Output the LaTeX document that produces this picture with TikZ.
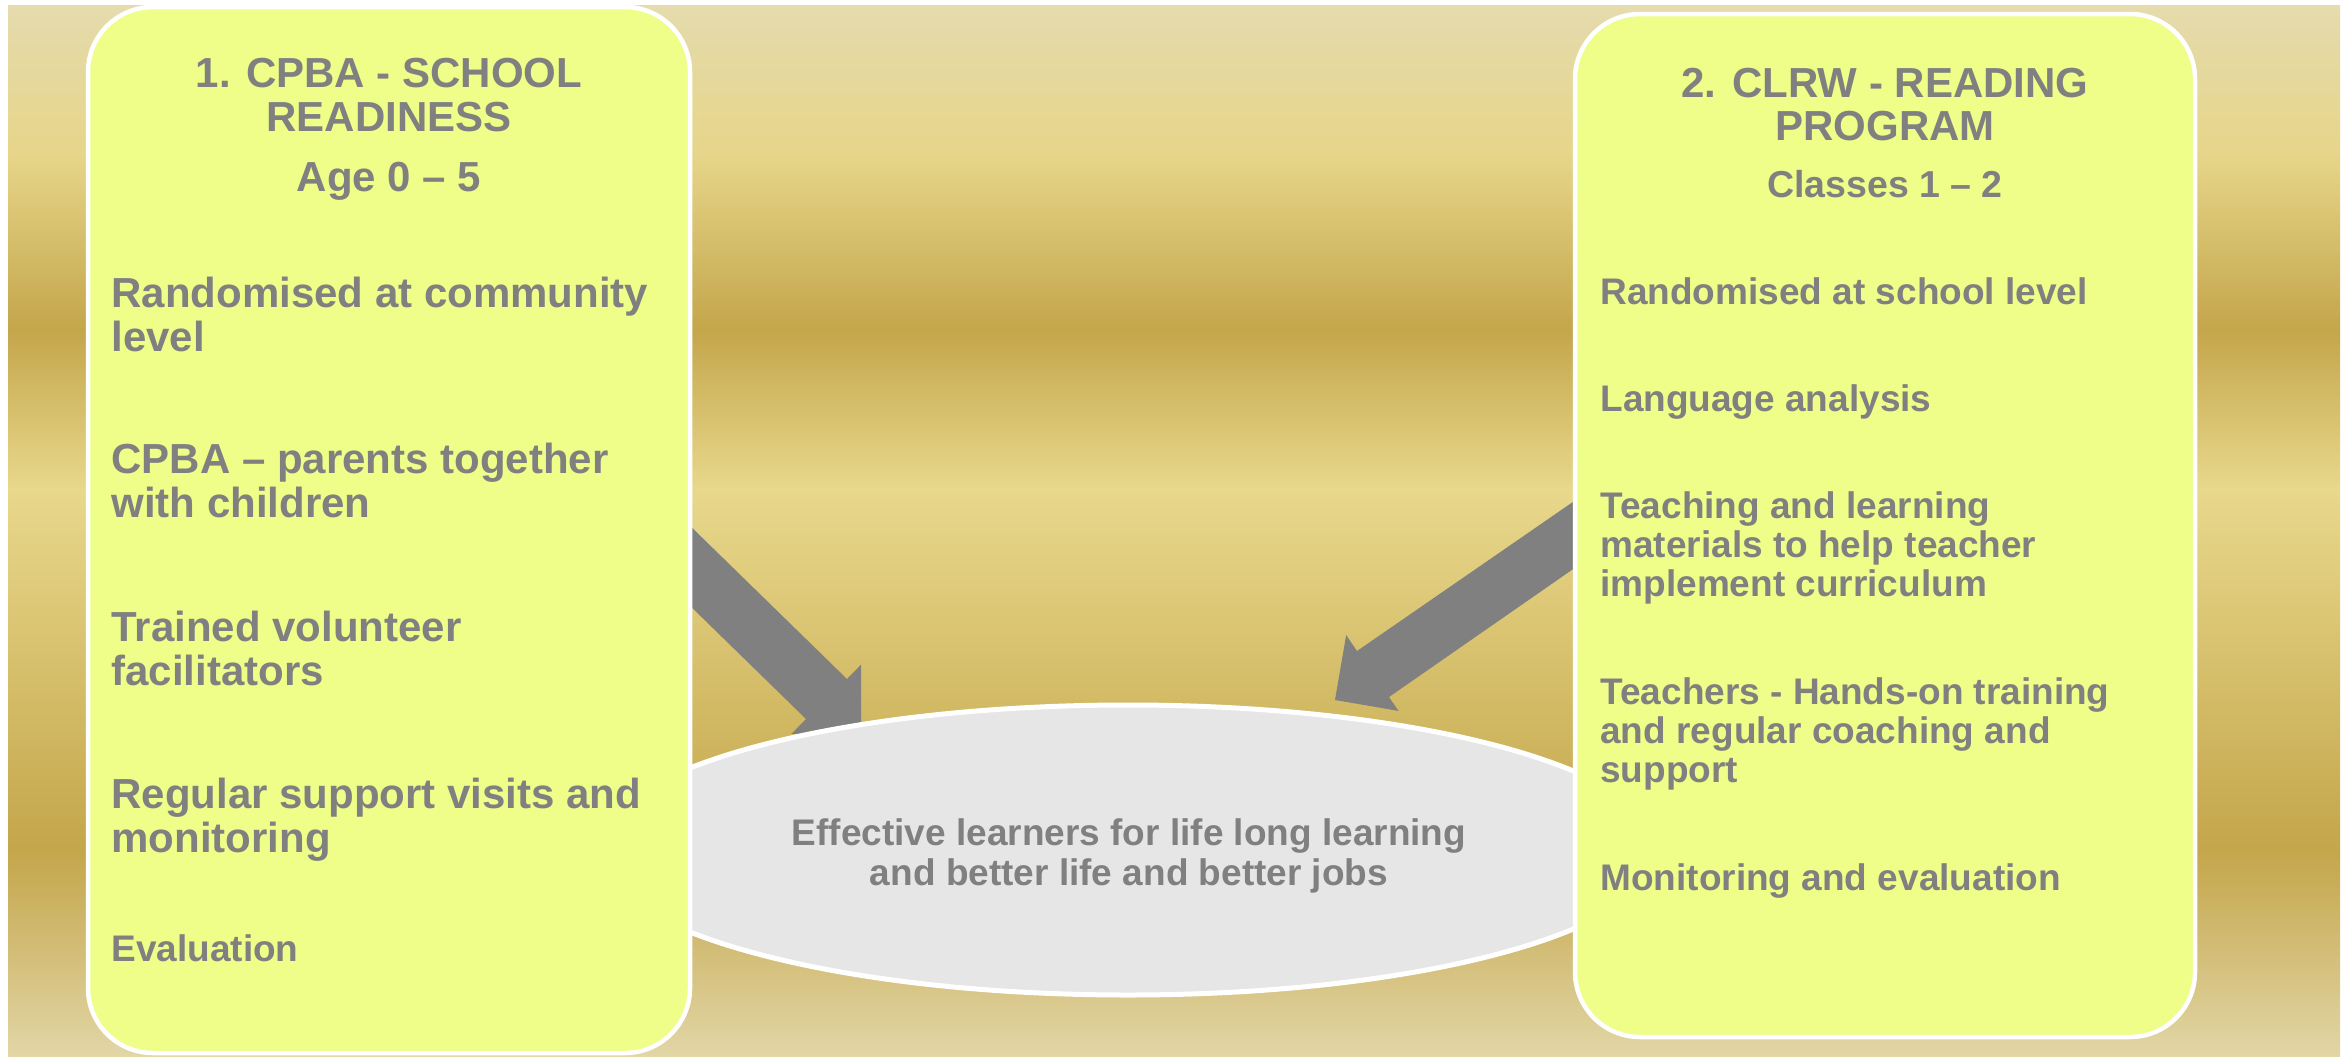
\documentclass[tikz,border=0pt]{standalone}
\usepackage{fontspec}
\setmainfont{Liberation Sans}
\usetikzlibrary{shapes.geometric}
\definecolor{boxfill}{HTML}{EEFE88}
\definecolor{goalfill}{HTML}{E6E6E6}
\definecolor{txtgray}{HTML}{808080}
\definecolor{arrowgray}{HTML}{808080}
\definecolor{bgtop}{HTML}{E5DBAD}
\definecolor{bgyel}{HTML}{E6D589}
\definecolor{bgdark}{HTML}{C4A64B}
\definecolor{bglight}{HTML}{E8D88C}
\definecolor{bgbot}{HTML}{E2D6A6}
% TikZ maps 25bp..75bp of a shading onto the path (bottom to top)
\pgfdeclareverticalshading{goldbands}{100bp}{color(0bp)=(bgbot); color(25bp)=(bgbot); color(34.8bp)=(bgdark); color(51.95bp)=(bglight); color(59.55bp)=(bgdark); color(67.85bp)=(bgyel); color(75bp)=(bgtop); color(100bp)=(bgtop)}
\newcommand\lstack[1]{\vtop{\halign{##\hfil\cr#1\crcr}}}
\newcommand\cstack[1]{\vtop{\halign{\hfil##\hfil\cr#1\crcr}}}
\begin{document}
\begin{tikzpicture}[x=0.5pt,y=-0.5pt,
  progbox/.style={draw=white, line width=2.25pt, fill=boxfill, rounded corners=32.5pt, inner sep=0pt},
  goalshape/.style={ellipse, draw=white, line width=2.5pt, fill=goalfill, inner sep=0pt},
  bigtxt/.style={inner sep=0pt, text=txtgray, font=\fontsize{21pt}{22pt}\selectfont\bfseries},
  rtitle/.style={inner sep=0pt, text=txtgray, font=\fontsize{21pt}{21.5pt}\selectfont\bfseries},
  smalltxt/.style={inner sep=0pt, text=txtgray, font=\fontsize{18.5pt}{19.5pt}\selectfont\bfseries},
  goaltxt/.style={inner sep=0pt, text=txtgray, font=\fontsize{18.5pt}{20pt}\selectfont\bfseries},
  blockarrow/.style={fill=arrowgray, draw=none}]
\useasboundingbox (0,0) rectangle (2351,1056);
% background
\shade[shading=goldbands] (8,5) rectangle (2340,1056);
% block arrows (tips truncated)
\coordinate (lt1) at (640,477);
\coordinate (lt2) at (640,557);
\coordinate (rt1) at (1625,466);
\coordinate (rt2) at (1625,533);
\begin{scope}
  \clip (0,0) rectangle (861,733);
  \fill[blockarrow] (lt1) -- (847,679) -- (868,657.5) -- (898,769) -- (785,740.5) -- (806,719) -- (lt2) -- cycle;
\end{scope}
\begin{scope}
  \clip (1335,700) -- (1445,60) -- (2085,170) -- (1975,810) -- cycle;
  \fill[blockarrow] (rt1) -- (1357,651) -- (1340,626) -- (1291,731) -- (1406,722) -- (1389,697) -- (rt2) -- cycle;
\end{scope}
% goal ellipse
\node (goal) [goalshape, minimum width=531pt, minimum height=145pt] at (1128,850) {};
\node (goaltext) [goaltxt, anchor=base] at (1129,845) {\cstack{Effective learners for life long learning\cr and better life and better jobs}};
% boxes
\node (cpba) [progbox, minimum width=301pt, minimum height=523pt] at (389,530) {};
\node (clrw) [progbox, minimum width=310pt, minimum height=511.5pt] at (1885,525.5) {};
% left box texts
\node (lt) [bigtxt, anchor=base] at (389,87) {\cstack{1. CPBA - SCHOOL\cr READINESS}};
\node (lage) [bigtxt, anchor=base] at (389,191) {Age 0 – 5};
\node (la) [bigtxt, anchor=base west] at (111,307) {\lstack{Randomised at community\cr level}};
\node (lb) [bigtxt, anchor=base west] at (111,473) {\lstack{CPBA – parents together\cr with children}};
\node (lc) [bigtxt, anchor=base west] at (111,641) {\lstack{Trained volunteer\cr facilitators}};
\node (ld) [bigtxt, anchor=base west] at (111,808) {\lstack{Regular support visits and\cr monitoring}};
\node (le) [smalltxt, anchor=base west] at (111,961) {Evaluation};
% right box texts
\node (rt) [rtitle, anchor=base] at (1885,97) {\cstack{2. CLRW - READING\cr PROGRAM}};
\node (rcl) [smalltxt, font=\fontsize{18.75pt}{19.5pt}\selectfont\bfseries, anchor=base] at (1885,197) {Classes 1 – 2};
\node (ra) [smalltxt, anchor=base west] at (1600,304) {Randomised at school level};
\node (rb) [smalltxt, anchor=base west] at (1600,411) {Language analysis};
\node (rc) [smalltxt, anchor=base west] at (1600,518) {\lstack{Teaching and learning\cr materials to help teacher\cr implement curriculum}};
\node (rd) [smalltxt, anchor=base west] at (1600,704) {\lstack{Teachers - Hands-on training\cr and regular coaching and\cr support}};
\node (re) [smalltxt, anchor=base west] at (1600,890) {Monitoring and evaluation};
\end{tikzpicture}
\end{document}
